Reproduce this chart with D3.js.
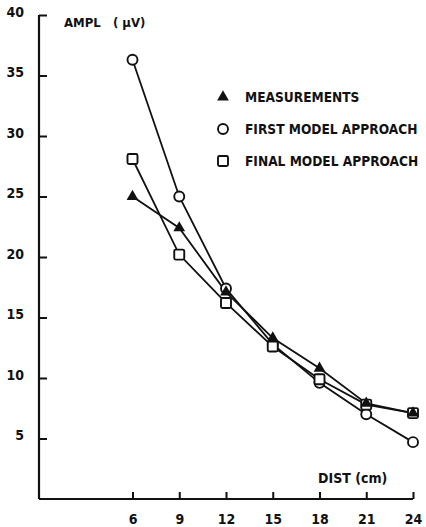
<!DOCTYPE html>
<html>
<head>
<meta charset="utf-8">
<script src="https://cdn.jsdelivr.net/npm/d3@7"></script>
<style>
  html, body { margin: 0; padding: 0; background: #fff; }
  svg text { font-family: "DejaVu Sans Condensed", "DejaVu Sans", sans-serif; font-stretch: condensed; font-weight: bold; fill: #111; }
</style>
</head>
<body>
<svg id="chart" width="426" height="527"></svg>
<script>
// Distance from source (cm)
const distances = [6, 9, 12, 15, 18, 21, 24];
// Amplitude (µV) per series
const measurements = [25.0, 22.4, 17.1, 13.3, 10.8, 7.9, 7.1];
const firstModel   = [36.3, 25.0, 17.4, 12.8, 9.6, 7.0, 4.7];
const finalModel   = [28.1, 20.2, 16.2, 12.6, 9.9, 7.8, 7.1];
const xTicks = [6, 9, 12, 15, 18, 21, 24];
const yTicks = [5, 10, 15, 20, 25, 30, 35, 40];
const legendLabels = ["MEASUREMENTS", "FIRST MODEL APPROACH", "FINAL MODEL APPROACH"];

const svg = d3.select("#chart");
const ink = "#111";

const x = d3.scaleLinear().domain([0, 24]).range([39, 413]);
const y = d3.scaleLinear().domain([0, 40]).range([499, 15]);

// Y axis: ticks point inward
const yAxis = svg.append("g").attr("transform", `translate(${x(0)},0)`)
  .call(d3.axisRight(y).tickValues(yTicks).tickSize(8).tickFormat(d3.format("d")));
yAxis.select(".domain").attr("d", `M0,${y(0)}V${y(40)}`).attr("stroke", ink).attr("stroke-width", 2.2);
yAxis.selectAll(".tick line").attr("stroke", ink).attr("stroke-width", 2);
yAxis.selectAll(".tick text").attr("x", -15).attr("text-anchor", "end").attr("font-size", 14).attr("dy", "0.1em");

// X axis: ticks point upward
const xAxis = svg.append("g").attr("transform", `translate(0,${y(0)})`)
  .call(d3.axisTop(x).tickValues(xTicks).tickSize(7).tickFormat(d3.format("d")));
xAxis.select(".domain").attr("d", `M${x(0)},0H${x(24)}`).attr("stroke", ink).attr("stroke-width", 2.2);
xAxis.selectAll(".tick line").attr("stroke", ink).attr("stroke-width", 2);
xAxis.selectAll(".tick text").attr("y", 25).attr("dy", 0).attr("font-size", 14);
xAxis.selectAll("text").attr("fill", ink);
yAxis.selectAll("text").attr("fill", ink);

// Axis titles
svg.append("text").attr("x", 64).attr("y", 27).attr("font-size", 13)
  .style("white-space", "pre").text("AMPL   ( \u03BCV)");
svg.append("text").attr("x", 318).attr("y", 483).attr("font-size", 14).text("DIST (cm)");

const line = d3.line().x((d, i) => x(distances[i])).y(d => y(d));

const series = [
  { values: firstModel, shape: "circle" },
  { values: finalModel, shape: "square" },
  { values: measurements, shape: "triangle" }
];

series.forEach(s => {
  svg.append("path").datum(s.values).attr("d", line)
    .attr("fill", "none").attr("stroke", ink).attr("stroke-width", 1.8);
});

function drawMarker(g, shape, cx, cy) {
  if (shape === "circle") {
    g.append("circle").attr("cx", cx).attr("cy", cy).attr("r", 5)
      .attr("fill", "#fff").attr("stroke", ink).attr("stroke-width", 1.9);
  } else if (shape === "square") {
    g.append("rect").attr("x", cx - 5).attr("y", cy - 5).attr("width", 10).attr("height", 10)
      .attr("rx", 1.5).attr("fill", "#fff").attr("stroke", ink).attr("stroke-width", 1.9);
  } else {
    g.append("path").attr("transform", `translate(${cx},${cy})`)
      .attr("d", d3.symbol(d3.symbolTriangle, 60)()).attr("fill", ink);
  }
}

const marks = svg.append("g");
series.forEach(s => {
  s.values.forEach((v, i) => drawMarker(marks, s.shape, x(distances[i]), y(v)));
});

// Legend
const legend = svg.append("g");
const legendShapes = ["triangle", "circle", "square"];
legendLabels.forEach((label, i) => {
  const ly = 97 + i * 32;
  drawMarker(legend, legendShapes[i], 223, ly);
  legend.append("text").attr("x", 245).attr("y", ly + 5).attr("font-size", 13.6).text(label);
});
</script>
</body>
</html>
